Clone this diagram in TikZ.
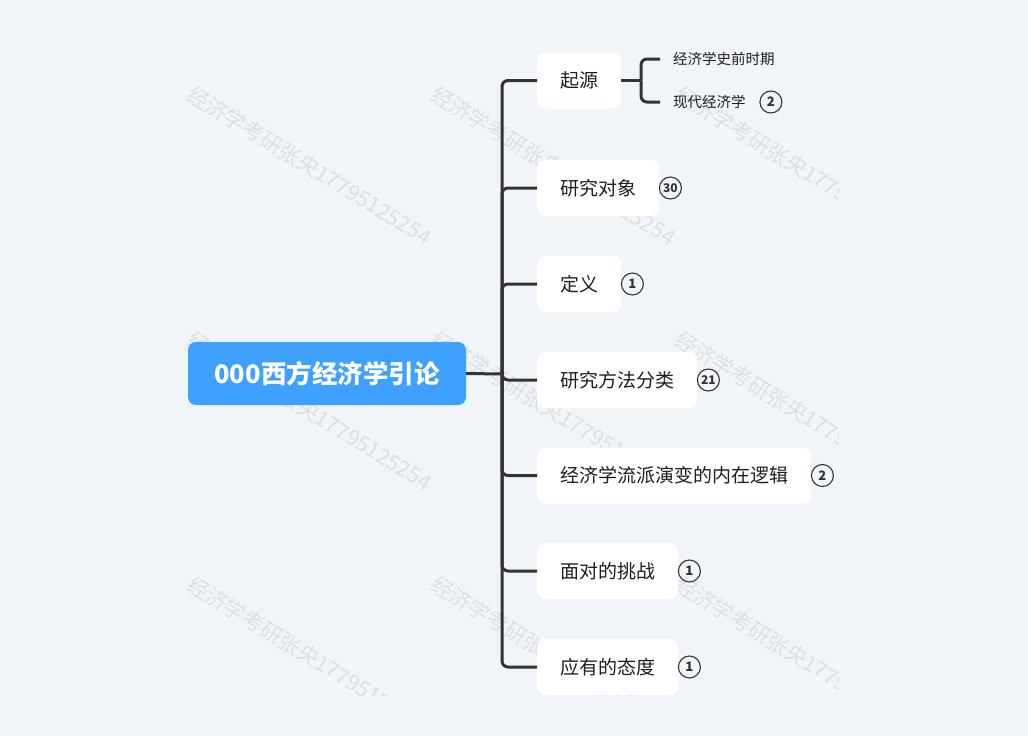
\documentclass[tikz,border=0pt]{standalone}
\usepackage{fontspec}
\setmainfont{Noto Sans CJK SC}
\usetikzlibrary{calc}
\definecolor{bg}{RGB}{241,244,248}
\definecolor{rootblue}{RGB}{62,160,255}
\definecolor{linec}{RGB}{51,51,51}
\definecolor{wmc}{RGB}{220,224,229}
\definecolor{txt}{RGB}{30,30,30}
\begin{document}
\begin{tikzpicture}[x=1pt,y=-1pt,
 rootbox/.style={fill=rootblue, rounded corners=8pt, minimum width=278pt, minimum height=63pt, inner sep=0pt, text=white, font=\fontsize{25.5}{25.5}\selectfont\bfseries},
 childbox/.style={fill=white, rounded corners=8pt, minimum height=56pt, inner xsep=23pt, inner ysep=0pt, anchor=west, text=txt, font=\fontsize{19}{19}\selectfont},
 subtext/.style={anchor=west, inner xsep=13pt, inner ysep=2pt, text=txt, font=\fontsize{14.5}{14.5}\selectfont},
 badge/.style={circle, draw=linec, line width=1.1pt, minimum size=22pt, inner sep=0pt, text=linec, font=\fontsize{13}{13}\selectfont\bfseries},
 badgetwo/.style={badge, font=\fontsize{12}{12}\selectfont\bfseries},
 branch/.style={draw=linec, line width=3pt, rounded corners=6pt},
 wm/.style={text=wmc, rotate=-31.5, anchor=base west, font=\fontsize{21.5}{21.5}\selectfont, inner sep=0pt},
]
\useasboundingbox (0,0) rectangle (1028,736);
\fill[bg] (0,0) rectangle (1028,736);
\begin{scope}
\clip (180,40) rectangle (838,695);
\foreach \i in {0,1,2} \foreach \j in {0,1,2} {
  \node[wm] (wm\i\j) at ({185+244*\i},{99+245*\j}) {经济学考研张央17795125254};
}
\end{scope}

\node[rootbox] (root) at (327,373.5) {000西方经济学引论};
\coordinate (hub) at (502,374);

\node[childbox] (c1) at (537,80.5) {起源};
\node[childbox] (c2) at (537,188) {研究对象};
\node[childbox] (c3) at (537,284) {定义};
\node[childbox] (c4) at (537,380) {研究方法分类};
\node[childbox] (c5) at (537,475.5) {经济学流派演变的内在逻辑};
\node[childbox] (c6) at (537,571) {面对的挑战};
\node[childbox] (c7) at (537,667) {应有的态度};

\draw[branch] (root.east) -- (hub);
\foreach \c in {c1,c2,c3,c4,c5,c6,c7}
  \draw[branch] (hub) -- (hub |- \c.west) -- (\c.west);

\node[subtext] (s1) at (660,59) {经济学史前时期};
\node[subtext] (s2) at (660,102) {现代经济学};
\coordinate (subhub) at (641,80.5);
\draw[branch] (c1.east) -- (subhub);
\draw[branch] (subhub) -- (subhub |- s1.west) -- (s1.west);
\draw[branch] (subhub) -- (subhub |- s2.west) -- (s2.west);

\node[badge] (bs2) at ($(s2.east)+(12,0)$) {2};
\node[badgetwo] (b2) at ($(c2.east)+(11,0)$) {30};
\node[badge] (b3) at ($(c3.east)+(11,0)$) {1};
\node[badgetwo] (b4) at ($(c4.east)+(11,0)$) {21};
\node[badge] (b5) at ($(c5.east)+(11,0)$) {2};
\node[badge] (b6) at ($(c6.east)+(11,0)$) {1};
\node[badge] (b7) at ($(c7.east)+(11,0)$) {1};
\end{tikzpicture}
\end{document}
